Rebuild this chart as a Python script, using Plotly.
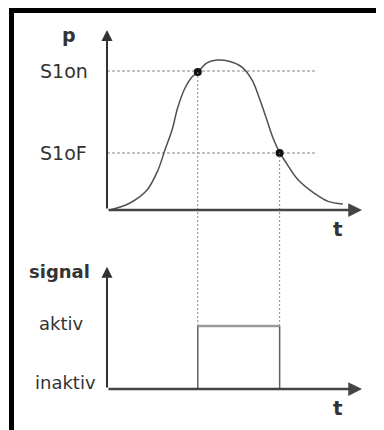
import plotly.graph_objects as go

# pressure curve p(t)
curve_t = [0.1, 0.9, 1.57, 2.0, 2.27, 2.55, 2.78, 3.06, 3.33, 3.57, 3.92, 4.31,
           4.75, 5.29, 5.69, 6.0, 6.27, 6.51, 6.78, 7.06, 7.49, 8.16, 8.67, 9.25]
curve_p = [0.0, 0.39, 1.11, 2.22, 3.33, 4.44, 5.72, 6.78, 7.39, 7.67, 8.17, 8.33,
           8.28, 7.94, 7.22, 6.11, 5.0, 4.0, 3.17, 2.55, 1.68, 0.9, 0.48, 0.33]

# switching thresholds and the moments they are crossed
levels = ["S1on", "S1oF"]
level_p = [7.72, 3.17]
switch_t = [3.56, 6.77]
switch_p = [7.67, 3.17]
level_end_t = 8.24

# output signal (0 = inaktiv, 1 = aktiv)
signal_labels = ["inaktiv", "aktiv"]
signal_vals = [0, 1]

t_max = 10
p_max = 10
sig_max = 1.94

# page body has an 8px margin, so everything is laid out 8px up/left
OFF = 8
X_RANGE = [-(107 - OFF) / 25.5, (384 - 107 + OFF) / 25.5]
P_RANGE = [-(430 - 210 + OFF) / 18, (210 - OFF) / 18]
S_RANGE = [-(430 - 389 + OFF) / 63, (389 - OFF) / 63]


def p_to_sig(p):
    f = (p - P_RANGE[0]) / (P_RANGE[1] - P_RANGE[0])
    return S_RANGE[0] + f * (S_RANGE[1] - S_RANGE[0])


INK = "#333333"
FONT = "DejaVu Sans"

fig = go.Figure()

# threshold lines
for lv in level_p:
    fig.add_trace(go.Scatter(x=[0, level_end_t], y=[lv, lv], mode="lines",
                             line=dict(color="#b0b0b0", width=1.5, dash="3px,2px"),
                             yaxis="y", hoverinfo="skip"))

# vertical guides from the crossings down to the signal
for t, p in zip(switch_t, switch_p):
    fig.add_trace(go.Scatter(x=[t, t], y=[signal_vals[1], p_to_sig(p)], mode="lines",
                             line=dict(color="#8a8a8a", width=1, dash="2px,2px"),
                             yaxis="y2", hoverinfo="skip"))

fig.add_trace(go.Scatter(x=curve_t, y=curve_p, mode="lines", line_shape="spline",
                         line=dict(color="#505050", width=1.5), yaxis="y"))

fig.add_trace(go.Scatter(x=switch_t, y=switch_p, mode="markers",
                         marker=dict(color="#111111", size=8), yaxis="y"))

# signal pulse
fig.add_trace(go.Scatter(x=[switch_t[0], switch_t[0]], y=signal_vals, mode="lines",
                         line=dict(color="#606060", width=1.5), yaxis="y2"))
fig.add_trace(go.Scatter(x=[switch_t[1], switch_t[1]], y=signal_vals, mode="lines",
                         line=dict(color="#606060", width=1.5), yaxis="y2"))
fig.add_trace(go.Scatter(x=switch_t, y=[signal_vals[1]] * 2, mode="lines",
                         line=dict(color="#9a9a9a", width=2.5), yaxis="y2"))

annotations = []
# axis arrows
for yref, top in [("y", p_max), ("y2", sig_max)]:
    annotations.append(dict(x=t_max, y=0, ax=0, ay=0, xref="x", yref=yref,
                            axref="x", ayref=yref, text="", showarrow=True,
                            arrowhead=2, arrowsize=1.1, arrowwidth=2.5, arrowcolor="#444444"))
    annotations.append(dict(x=0, y=top, ax=0, ay=0, xref="x", yref=yref,
                            axref="x", ayref=yref, text="", showarrow=True,
                            arrowhead=2, arrowsize=1.1, arrowwidth=2, arrowcolor="#333333"))
    annotations.append(dict(x=t_max, y=0, xref="x", yref=yref, text="<b>t</b>",
                            showarrow=False, xanchor="center", yanchor="top",
                            xshift=-24, yshift=-5, font=dict(size=20, color=INK, family=FONT)))

annotations.append(dict(x=0, y=p_max, xref="x", yref="y", text="<b>p</b>", showarrow=False,
                        xanchor="center", yanchor="middle", xshift=-38, yshift=-5,
                        font=dict(size=19, color=INK, family=FONT)))
annotations.append(dict(x=0, y=sig_max, xref="x", yref="y2", text="<b>signal</b>",
                        showarrow=False, xanchor="center", yanchor="middle", xshift=-48,
                        yshift=-5, font=dict(size=18, color=INK, family=FONT)))

for name, lv in zip(levels, level_p):
    annotations.append(dict(x=(38 - OFF) / 384, y=lv, xref="paper", yref="y", text=name,
                            showarrow=False, xanchor="left", yanchor="middle",
                            font=dict(size=19, color=INK, family=FONT)))
for name, v, xs, ys in zip(signal_labels, signal_vals, [33, 37], [7, 3]):
    annotations.append(dict(x=(xs - OFF) / 384, y=v, xref="paper", yref="y2", text=name,
                            showarrow=False, xanchor="left", yanchor="middle", yshift=ys,
                            font=dict(size=18, color=INK, family=FONT)))

# frame
shapes = [dict(type="rect", xref="paper", yref="paper", x0=(11.5 - OFF) / 384, x1=1.2,
               y0=-0.2, y1=1 - (10.5 - OFF) / 430, line=dict(color="black", width=5))]

fig.update_layout(
    width=384, height=430,
    margin=dict(l=0, r=0, t=0, b=0),
    paper_bgcolor="white", plot_bgcolor="white",
    showlegend=False,
    xaxis=dict(range=X_RANGE, visible=False, domain=[0, 1]),
    yaxis=dict(range=P_RANGE, visible=False, domain=[0, 1]),
    yaxis2=dict(range=S_RANGE, visible=False, overlaying="y"),
    annotations=annotations,
    shapes=shapes,
)

fig.write_html("out.html")
